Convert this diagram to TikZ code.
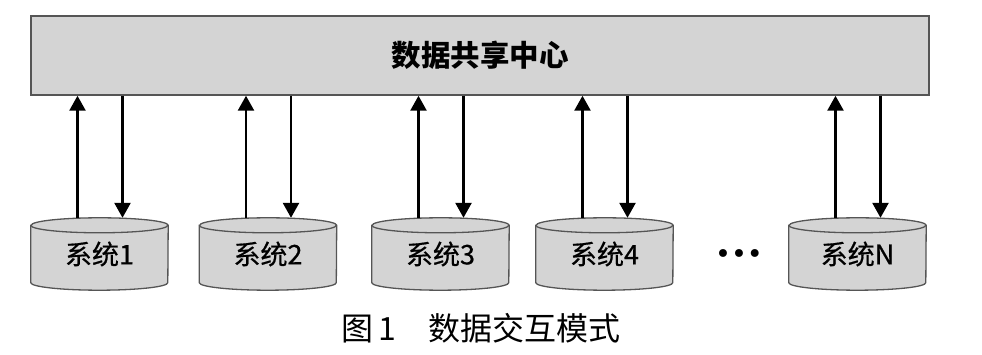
\documentclass[tikz,border=0pt]{standalone}
\usepackage{fontspec}
\newfontfamily\cjk{Noto Sans CJK SC}
\newfontfamily\cjkm[FakeBold=0.6]{Noto Sans CJK SC}
\newfontfamily\dejavu{DejaVu Sans}
\usetikzlibrary{arrows.meta,backgrounds}
\definecolor{boxgray}{HTML}{D4D4D4}
\definecolor{edgegray}{HTML}{555555}
\begin{document}
\begin{tikzpicture}[x=1pt,y=1pt,
  sysbox/.style={minimum width=137pt,minimum height=72pt,inner sep=0pt,
    font=\cjkm\fontsize{27}{27}\selectfont},
  cylline/.style={draw=edgegray,line width=1.3pt},
  flow/.style={line width=2.6pt,-{Triangle[length=15pt,width=16pt]}}]
\useasboundingbox (0,0) rectangle (982,355);
\node[draw=edgegray,line width=1.5pt,fill=boxgray,minimum width=898pt,
  minimum height=79pt,inner sep=0pt,
  font=\cjk\bfseries\fontsize{29.5}{29.5}\selectfont] (hub) at (480,299.5) {数据共享中心};
\foreach \n/\x/\t in {s1/99.5/系统1,s2/268/系统2,s3/440.5/系统3,s4/604.5/系统4,sN/857.5/系统N}{
  \node[sysbox] (\n) at (\x,101) {\raisebox{-4pt}{\t}};
  \begin{pgfonlayer}{background}
    \draw[cylline,fill=boxgray] ([yshift=-7.5pt]\n.north west) -- ([yshift=7.5pt]\n.south west)
      arc[start angle=180,end angle=360,x radius=68.5,y radius=7.5]
      -- ([yshift=-7.5pt]\n.north east)
      arc[start angle=0,end angle=180,x radius=68.5,y radius=7.5] -- cycle;
    \draw[cylline] ([yshift=-7.5pt]\n.north west)
      arc[start angle=180,end angle=360,x radius=68.5,y radius=7.5];
  \end{pgfonlayer}
  \draw[flow] ([xshift=-22pt]\n.north) -- ([xshift=-22pt]\n.north |- hub.south);
  \draw[flow] ([xshift=23pt]\n.north |- hub.south) -- ([xshift=23pt]\n.north);
}
\node[font=\dejavu\fontsize{27}{27}\selectfont,inner sep=0pt] (dots) at (739,98) {•••};
\node[font=\cjk\fontsize{32}{32}\selectfont,inner sep=0pt] (cap) at (481,27) {图\,1　数据交互模式};
\end{tikzpicture}
\end{document}
